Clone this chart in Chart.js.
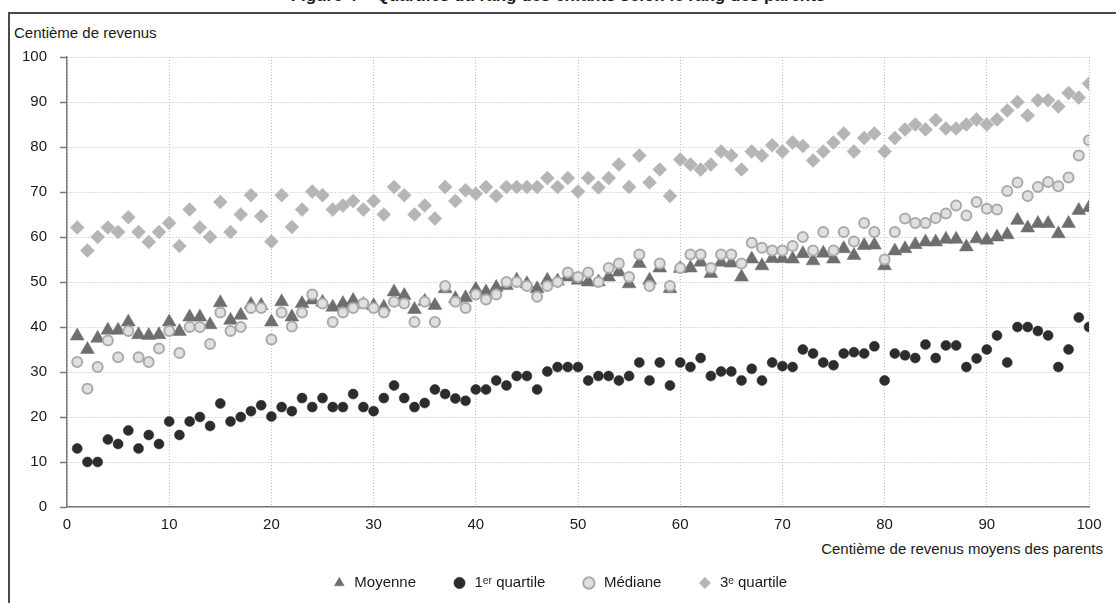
<!DOCTYPE html>
<html lang="fr">
<head>
<meta charset="utf-8">
<script src="https://cdn.jsdelivr.net/npm/chart.js@4.4.1/dist/chart.umd.min.js"></script>
<style>
  html, body { margin: 0; padding: 0; background: #fff; }
  body { width: 1116px; height: 603px; position: relative; overflow: hidden;
         font-family: 'Liberation Sans', Arial, sans-serif; color: #1a1a1a; }
  #frame { position: absolute; left: 8px; top: 12px; width: 1200px; height: 700px;
           border-top: 2px solid #4a4a4a; border-left: 2px solid #4a4a4a; }
  #fig-title { position: absolute; left: 0; width: 1116px; top: -14px; text-align: center;
               font-weight: bold; font-size: 17px; line-height: 20px; }
  .lbl { position: absolute; font-size: 15px; line-height: 18px; white-space: nowrap; }
  #ytitle { left: 14px; top: 24px; }
  #xtitle { right: 13px; top: 540px; }
  canvas { position: absolute; left: 0; top: 0; }
</style>
</head>
<body>
<div id="fig-title">Figure 4 – Quartiles du rang des enfants selon le rang des parents</div>
<div id="frame"></div>
<div class="lbl" id="ytitle">Centième de revenus</div>
<div class="lbl" id="xtitle">Centième de revenus moyens des parents</div>
<canvas id="chart" width="1116" height="603"></canvas>
<script>
// centième de revenus moyens des parents (axe x)
const centiles = [
  1, 2, 3, 4, 5, 6, 7, 8, 9, 10, 11, 12, 13, 14, 15, 16, 17, 18, 19, 20,
  21, 22, 23, 24, 25, 26, 27, 28, 29, 30, 31, 32, 33, 34, 35, 36, 37, 38, 39, 40,
  41, 42, 43, 44, 45, 46, 47, 48, 49, 50, 51, 52, 53, 54, 55, 56, 57, 58, 59, 60,
  61, 62, 63, 64, 65, 66, 67, 68, 69, 70, 71, 72, 73, 74, 75, 76, 77, 78, 79, 80,
  81, 82, 83, 84, 85, 86, 87, 88, 89, 90, 91, 92, 93, 94, 95, 96, 97, 98, 99, 100
];

const moyenne = [
  38, 35, 37.5, 39.3, 39.3, 41.1, 38.3, 38.1, 38.3, 41.1,
  39, 42.2, 42.2, 40.5, 45.4, 41.5, 42.6, 45, 44.8, 41.1,
  45.6, 42.2, 45.2, 46, 45.5, 44.4, 45.2, 45.9, 45, 44.7,
  44.4, 47.8, 47, 43.9, 45.7, 44.8, 48.5, 46.3, 46.5, 48.4,
  47.8, 48.8, 49.2, 50.4, 49.6, 48.5, 50.4, 50.2, 51.1, 50.4,
  50, 50, 51.1, 52.2, 49.6, 54.1, 50.4, 53.1, 48.5, 53,
  53.1, 54.4, 51.9, 54.4, 54.2, 51.1, 55.1, 53.6, 55.2, 55.2,
  55.1, 56.3, 54.7, 56.4, 55.1, 57.4, 55.9, 58.1, 58.2, 53.6,
  56.9, 57.4, 58.3, 58.9, 58.9, 59.5, 59.5, 57.8, 59.6, 59.3,
  60, 60.5, 63.7, 62, 63, 63, 60.7, 63, 65.9, 66.5
];

const quartile1 = [
  13, 10, 10, 15, 14, 17, 13, 16, 14, 19,
  16, 19, 20, 18, 23, 19, 20, 21.3, 22.6, 20.1,
  22.2, 21.3, 24.2, 22.2, 24.2, 22.2, 22.2, 25.1, 22.2, 21.3,
  24.2, 27, 24.2, 22.2, 23.1, 26.1, 25.1, 24.1, 23.6, 26.1,
  26.1, 28.1, 27, 29.1, 29.1, 26.1, 30.1, 31.1, 31.1, 31.1,
  28.1, 29.1, 29.1, 28.1, 29.1, 32.1, 28.1, 32.1, 27, 32.1,
  31.1, 33.1, 29.1, 30.1, 30.1, 28.1, 30.7, 28.1, 32.1, 31.3,
  31.1, 35, 34.1, 32.1, 31.5, 34.1, 34.4, 34.1, 35.7, 28.1,
  34.1, 33.7, 33.1, 36.1, 33.1, 35.9, 35.9, 31.1, 33, 35,
  38.1, 32.1, 40, 40, 39.1, 38.1, 31.1, 35, 42.1, 40
];

const mediane = [
  32.2, 26.3, 31.1, 37, 33.3, 39.1, 33.3, 32.2, 35.2, 39.1,
  34.2, 40, 40, 36.2, 43.2, 39.1, 40, 44.2, 44.2, 37.2,
  43.2, 40.1, 43.2, 47.2, 45.2, 41.1, 43.2, 44.2, 45.2, 44.2,
  43.2, 45.6, 45.2, 41.1, 45.6, 41.1, 49.1, 45.6, 44.2, 47.2,
  46.1, 47.2, 50, 50, 49.1, 46.7, 49.1, 50, 52.1, 51.1,
  52.1, 50, 53.1, 54.1, 51.1, 56.1, 49.1, 54.1, 49.1, 53.1,
  56.1, 56.1, 53.1, 56.1, 56.1, 54.1, 58.7, 57.6, 57, 57,
  58, 60, 57, 61.1, 57, 61.1, 59, 63.1, 61.1, 55,
  61.1, 64.1, 63.1, 63.1, 64.2, 65.2, 67, 64.8, 67.8, 66.3,
  66.1, 70.2, 72.1, 69.1, 71.1, 72.2, 71.3, 73.2, 78.1, 81.5
];

const quartile3 = [
  62.1, 57, 60, 62.1, 61.1, 64.4, 61.1, 58.9, 61.1, 63.1,
  58, 66.1, 62.1, 60, 67.8, 61.1, 65, 69.3, 64.6, 59,
  69.3, 62.2, 66.1, 70.1, 69.3, 66.1, 67, 68, 66.1, 68,
  65, 71.1, 69.3, 65, 67, 64.1, 71.1, 68, 70.4, 69.6,
  71.1, 69.1, 71.1, 71.1, 71.1, 71.1, 73.1, 71.1, 73.1, 70.1,
  73.1, 71, 73.1, 76.1, 71.1, 78.1, 72.1, 75, 69.1, 77.2,
  76.1, 75, 76.1, 79, 78.1, 75, 79, 78.1, 80.4, 79,
  81, 80.2, 77, 79, 81, 83, 79, 82, 83, 79,
  82, 83.9, 85, 83.9, 86, 84.1, 84.1, 85, 86.1, 85,
  86.1, 88.1, 90, 87, 90.4, 90.4, 89, 92, 91, 94.1
];

const yTicks = [0, 10, 20, 30, 40, 50, 60, 70, 80, 90, 100];
const xTicks = [0, 10, 20, 30, 40, 50, 60, 70, 80, 90, 100];

const FONT = "'Liberation Sans', Arial, sans-serif";
const TEXT = '#1a1a1a';
const GRID = '#bdbdbd';
const AXIS = '#7a7a7a';

function points(values) {
  return values.map((v, i) => ({ x: centiles[i], y: v }));
}

const datasets = [
  {
    label: 'Moyenne',
    data: points(moyenne),
    pointStyle: 'triangle',
    pointRadius: 8,
    backgroundColor: '#6e6e6e',
    borderColor: '#6e6e6e',
    borderWidth: 0.5,
    order: 2
  },
  {
    label: '1ᵉʳ quartile',
    data: points(quartile1),
    pointStyle: 'circle',
    pointRadius: 5,
    backgroundColor: '#2c2c2c',
    borderColor: '#2c2c2c',
    borderWidth: 0.5,
    order: 2
  },
  {
    label: 'Médiane',
    data: points(mediane),
    pointStyle: 'circle',
    pointRadius: 5,
    backgroundColor: '#e0e0e0',
    borderColor: '#aaaaaa',
    borderWidth: 2,
    order: 1
  },
  {
    label: '3ᵉ quartile',
    data: points(quartile3),
    pointStyle: 'rectRot',
    pointRadius: 7,
    backgroundColor: '#b5b5b5',
    borderColor: '#b5b5b5',
    borderWidth: 0.5,
    order: 3
  }
];

// the legend row sits a little right of the canvas centre
const shiftLegend = {
  id: 'shiftLegend',
  afterLayout(chart) {
    if (!chart.legend) return;
    chart.legend.left += 8;
    chart.legend.right += 8;
  }
};

new Chart(document.getElementById('chart'), {
  type: 'scatter',
  data: { datasets },
  plugins: [shiftLegend],
  options: {
    responsive: false,
    animation: false,
    events: [],
    layout: { padding: { left: 14, right: 27, top: 57, bottom: 2.5 } },
    plugins: {
      legend: {
        position: 'bottom',
        labels: {
          usePointStyle: true,
          boxHeight: 8,
          padding: 36,
          color: TEXT,
          font: { family: FONT, size: 15 },
          sort: (a, b) => a.datasetIndex - b.datasetIndex
        }
      },
      tooltip: { enabled: false }
    },
    scales: {
      x: {
        type: 'linear',
        min: 0,
        max: 100,
        afterFit: s => { s.height = 32.5; },
        afterBuildTicks: s => { s.ticks = xTicks.map(v => ({ value: v })); },
        ticks: { padding: 9, color: TEXT, font: { family: FONT, size: 15 } },
        grid: { color: GRID, lineWidth: 1, drawTicks: false },
        border: { color: AXIS, width: 1.5, dash: [1, 2] }
      },
      y: {
        min: 0,
        max: 100,
        afterFit: s => { s.width = 53; },
        afterBuildTicks: s => { s.ticks = yTicks.map(v => ({ value: v })); },
        ticks: { padding: 13, color: TEXT, font: { family: FONT, size: 15 } },
        grid: { color: GRID, lineWidth: 1, tickColor: AXIS, tickLength: 7, tickWidth: 1.5, tickBorderDash: [] },
        border: { color: AXIS, width: 1.5, dash: [1, 2] }
      }
    }
  }
});
</script>
</body>
</html>
